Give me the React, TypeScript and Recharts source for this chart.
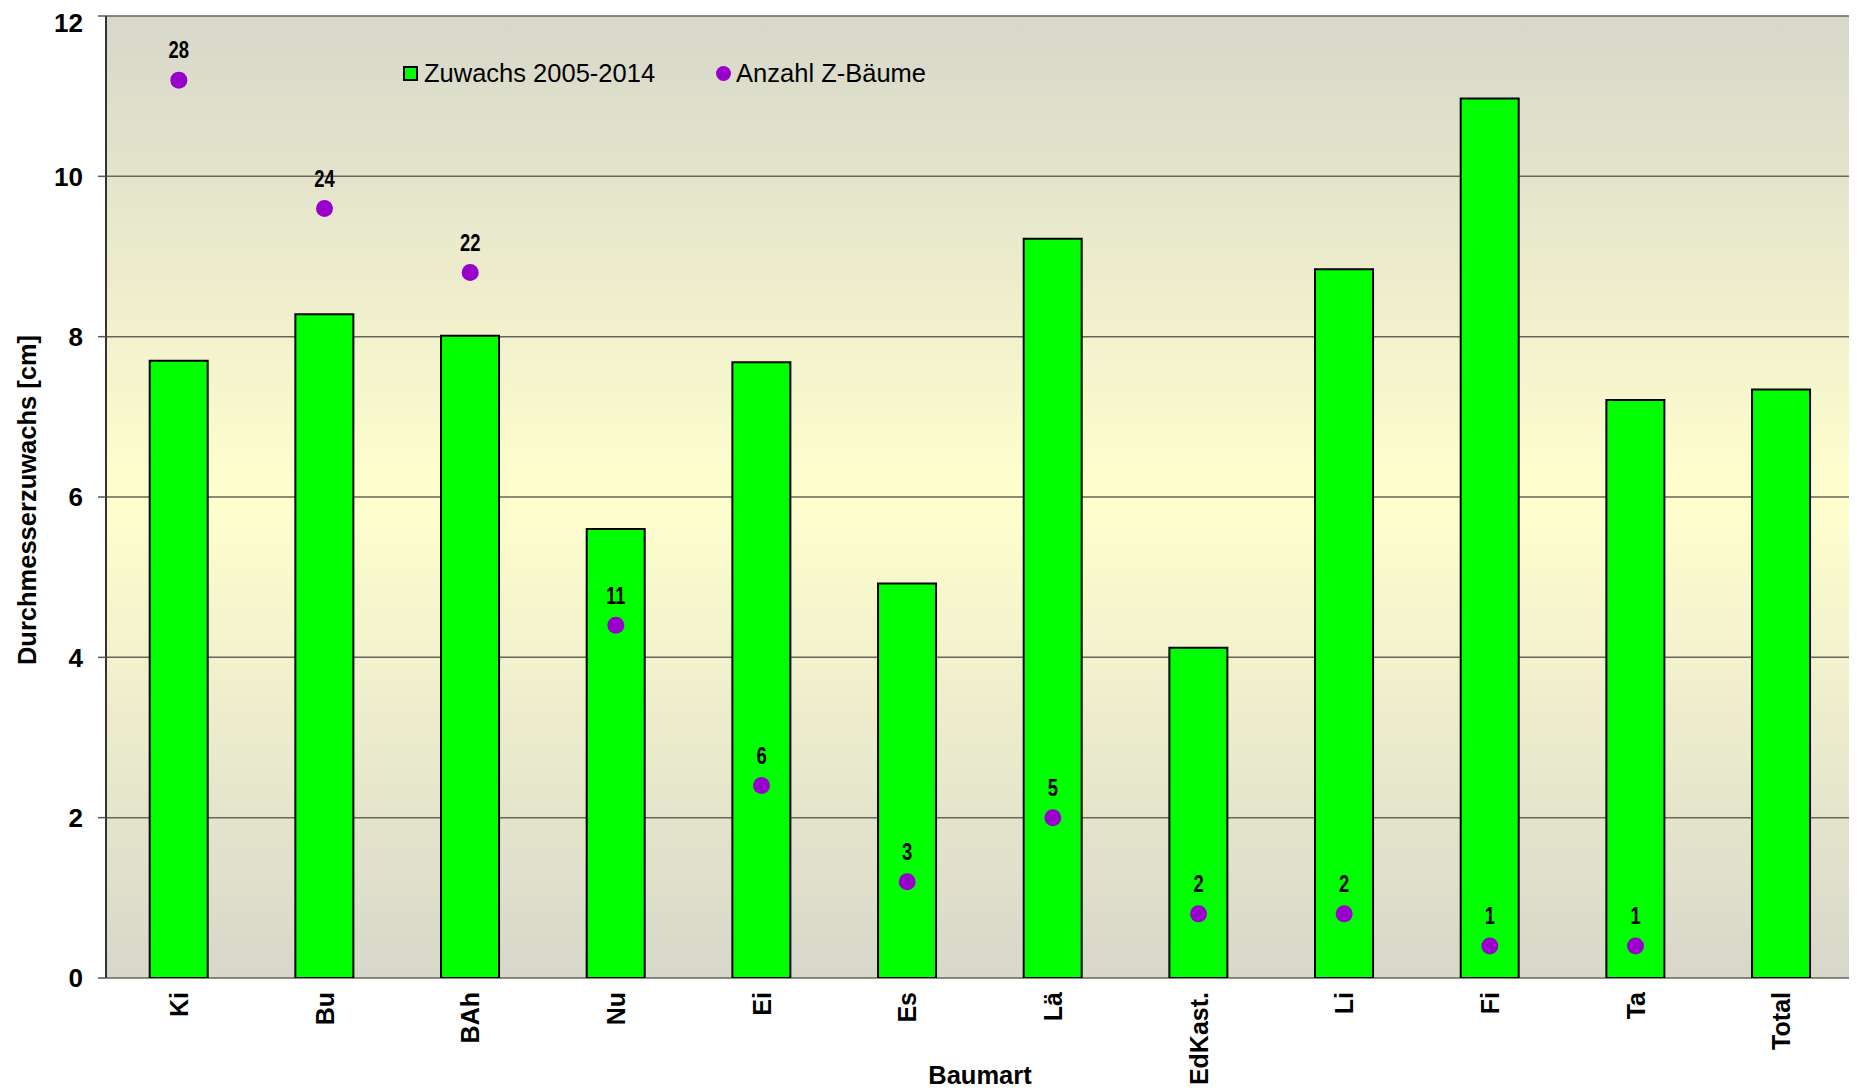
import React from 'react';
import {
  ComposedChart,
  Bar,
  Scatter,
  XAxis,
  YAxis,
  CartesianGrid,
  Legend,
  ReferenceLine,
} from 'recharts';

// ---- data ----
const categories = ['Ki', 'Bu', 'BAh', 'Nu', 'Ei', 'Es', 'Lä', 'EdKast.', 'Li', 'Fi', 'Ta', 'Total'];
const zuwachs = [7.7, 8.28, 8.01, 5.6, 7.68, 4.92, 9.22, 4.12, 8.84, 10.97, 7.21, 7.34];
const anzahlPosition = [11.2, 9.6, 8.8, 4.4, 2.4, 1.2, 2.0, 0.8, 0.8, 0.4, 0.4, null];
const anzahlLabels = [28, 24, 22, 11, 6, 3, 5, 2, 2, 1, 1, null];
const yTicks = [0, 2, 4, 6, 8, 10, 12];
const boundaryTicks = [0, 1, 2, 3, 4, 5, 6, 7, 8, 9, 10, 11, 12];

const data = categories.map((name, i) => ({
  name,
  zuwachs: zuwachs[i],
  anzahl: anzahlPosition[i],
  count: anzahlLabels[i],
}));

const FONT = "'Liberation Sans', Arial, Helvetica, sans-serif";
const GREEN = '#00FF00';
const PURPLE = '#9900CC';

const XTick = (props: any) => {
  const { x, y, payload } = props;
  return (
    <text
      x={x}
      y={y}
      transform={`rotate(-90 ${x} ${y})`}
      textAnchor="end"
      dominantBaseline="central"
      fontFamily={FONT}
      fontWeight="bold"
      fontSize={25}
      fill="#000"
    >
      {payload.value}
    </text>
  );
};

const DotShape = (props: any) => {
  const { cx, cy, payload } = props;
  if (!payload || payload.count == null || cx == null || cy == null || Number.isNaN(cy)) return <g />;
  return (
    <g>
      <circle cx={cx} cy={cy} r={8.5} fill={PURPLE} />
      <text
        x={0}
        y={0}
        transform={`translate(${cx} ${cy - 30}) scale(0.8 1)`}
        textAnchor="middle"
        dominantBaseline="central"
        fontFamily={FONT}
        fontWeight="bold"
        fontSize={23}
        fill="#000"
      >
        {payload.count}
      </text>
    </g>
  );
};

const YLabel = (props: any) => {
  const { viewBox } = props;
  const cx = 19;
  const cy = viewBox.y + viewBox.height / 2 + 3;
  return (
    <text
      x={cx}
      y={cy}
      transform={`rotate(-90 ${cx} ${cy})`}
      textAnchor="middle"
      dominantBaseline="central"
      fontFamily={FONT}
      fontWeight="bold"
      fontSize={25.5}
      fill="#000"
    >
      Durchmesserzuwachs [cm]
    </text>
  );
};

const XLabel = (props: any) => {
  const { viewBox } = props;
  const cx = viewBox.x + viewBox.width / 2;
  const cy = 1067;
  return (
    <text
      x={cx}
      y={cy}
      textAnchor="middle"
      dominantBaseline="central"
      fontFamily={FONT}
      fontWeight="bold"
      fontSize={25.5}
      fill="#000"
    >
      Baumart
    </text>
  );
};

const LegendContent = () => (
  <div
    style={{
      display: 'flex',
      alignItems: 'center',
      fontFamily: FONT,
      fontSize: 25.5,
      color: '#000',
      height: 30,
      whiteSpace: 'nowrap',
    }}
  >
    <span
      style={{
        display: 'inline-block',
        width: 15,
        height: 15,
        boxSizing: 'border-box',
        background: GREEN,
        border: '2px solid #000',
        marginRight: 6,
      }}
    />
    <span>Zuwachs 2005-2014</span>
    <span
      style={{
        display: 'inline-block',
        width: 15,
        height: 15,
        borderRadius: 8,
        background: PURPLE,
        marginLeft: 61,
        marginRight: 5,
      }}
    />
    <span>Anzahl Z-Bäume</span>
  </div>
);

export default function App() {
  return (
    <div style={{ width: 1849, height: 1083 }}>
      <ComposedChart
        width={1849}
        height={1083}
        data={data}
        margin={{ top: 8, right: 3, bottom: 0, left: 0 }}
        barCategoryGap="30%"
      >
        <defs>
          <linearGradient id="bgGrad" x1="0" y1="0" x2="0" y2="1">
            <stop offset="0%" stopColor="#D7D7CB" />
            <stop offset="50%" stopColor="#FFFFCE" />
            <stop offset="100%" stopColor="#D7D7CB" />
          </linearGradient>
        </defs>
        <CartesianGrid
          vertical={false}
          stroke="#66665C"
          strokeWidth={1.5}
          fill="url(#bgGrad)"
          fillOpacity={1}
        />
        <XAxis
          xAxisId="b"
          type="number"
          domain={[0, 12]}
          ticks={boundaryTicks}
          tick={false}
          tickSize={8}
          tickLine={{ stroke: '#555', strokeWidth: 1.5 }}
          axisLine={{ stroke: '#555', strokeWidth: 2 }}
          height={0}
          allowDataOverflow
        />
        <XAxis
          dataKey="name"
          type="category"
          axisLine={false}
          tickLine={false}
          tickSize={0}
          tickMargin={14}
          height={113}
          interval={0}
          tick={<XTick />}
          label={<XLabel />}
        />
        <YAxis
          domain={[0, 12]}
          ticks={yTicks}
          width={98}
          tickSize={8}
          tickMargin={15}
          tickLine={{ stroke: '#555', strokeWidth: 1.5 }}
          axisLine={{ stroke: '#333', strokeWidth: 2 }}
          tick={{ fontFamily: FONT, fontWeight: 'bold', fontSize: 26, fill: '#000' }}
          label={<YLabel />}
          allowDataOverflow
        />
        <ReferenceLine xAxisId="b" x={12} stroke="#777" strokeWidth={2} />
        <Legend
          layout="horizontal"
          verticalAlign="middle"
          align="center"
          wrapperStyle={{ top: 50, left: 395, width: 'auto' }}
          content={<LegendContent />}
        />
        <Bar
          dataKey="zuwachs"
          name="Zuwachs 2005-2014"
          fill={GREEN}
          stroke="#000"
          strokeWidth={2}
          isAnimationActive={false}
        />
        <Scatter
          dataKey="anzahl"
          name="Anzahl Z-Bäume"
          fill={PURPLE}
          shape={<DotShape />}
          isAnimationActive={false}
        />
      </ComposedChart>
    </div>
  );
}
